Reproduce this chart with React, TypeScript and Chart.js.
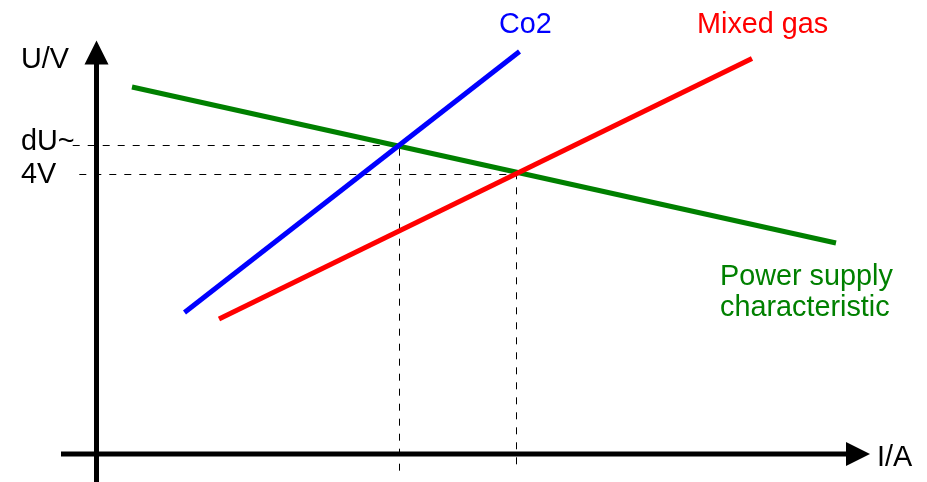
import React, { useEffect, useRef } from "react";
import { Chart, registerables } from "chart.js";

Chart.register(...registerables);

// Axis ranges (arbitrary units: I/A horizontal, U/V vertical)
const I_RANGE = [-9.65, 83.05];
const U_RANGE = [-2.8, 45.4];

// Characteristic lines (start / end points)
const powerSupplyI = [3.55, 73.95];
const powerSupplyU = [36.7, 21.1];
const co2I = [8.8, 42.3];
const co2U = [14.15, 40.25];
const mixedGasI = [12.25, 65.55];
const mixedGasU = [13.5, 39.55];

// Operating points (intersections) and their tick labels
const operatingI = [30.3, 42.0];
const operatingU = [30.85, 27.95];
const operatingLabels = ["dU~", "4V"];
const guideStartI = [-2.38, -1.72];
const guideEndU = -1.7;

// Axis extents
const xAxisFrom = -3.55;
const xAxisTip = 77.35;
const yAxisFrom = -2.8;
const yAxisTip = 41.35;

const seriesNames = ["Co2", "Mixed gas", "Power supply characteristic"];
const GREEN = "#008000";
const BLUE = "#0000ff";
const RED = "#ff0000";
const FONT = "28.8px 'Liberation Sans', Arial, sans-serif";

const pts = (xs: number[], ys: number[]) => xs.map((x, i) => ({ x, y: ys[i] }));

const overlayPlugin = {
  id: "overlay",
  afterDatasetsDraw(chart: any) {
    const { ctx, scales } = chart;
    const xs = scales.x;
    const ys = scales.y;
    const ox = xs.getPixelForValue(0);
    const oy = ys.getPixelForValue(0);
    const arrowLen = 24;
    const arrowHalf = 12;
    ctx.save();
    ctx.strokeStyle = "#000";
    ctx.fillStyle = "#000";
    ctx.lineWidth = 5;
    ctx.lineCap = "butt";
    // y axis
    const yTip = ys.getPixelForValue(yAxisTip);
    ctx.beginPath();
    ctx.moveTo(ox, ys.getPixelForValue(yAxisFrom));
    ctx.lineTo(ox, yTip + arrowLen - 1);
    ctx.stroke();
    ctx.beginPath();
    ctx.moveTo(ox, yTip);
    ctx.lineTo(ox - arrowHalf, yTip + arrowLen);
    ctx.lineTo(ox + arrowHalf, yTip + arrowLen);
    ctx.closePath();
    ctx.fill();
    // x axis
    const xTip = xs.getPixelForValue(xAxisTip);
    ctx.beginPath();
    ctx.moveTo(xs.getPixelForValue(xAxisFrom), oy);
    ctx.lineTo(xTip - arrowLen + 1, oy);
    ctx.stroke();
    ctx.beginPath();
    ctx.moveTo(xTip, oy);
    ctx.lineTo(xTip - arrowLen, oy - arrowHalf);
    ctx.lineTo(xTip - arrowLen, oy + arrowHalf);
    ctx.closePath();
    ctx.fill();

    // texts
    ctx.font = FONT;
    ctx.textBaseline = "alphabetic";
    ctx.textAlign = "left";
    ctx.fillStyle = "#000";
    ctx.fillText("U/V", 21, 68);
    ctx.fillText("I/A", xTip + 7, oy + 12);
    const tickBaselines = [150, 183];
    operatingLabels.forEach((t, i) => {
      ctx.fillText(t, 21, tickBaselines[i]);
    });
    ctx.fillStyle = BLUE;
    ctx.fillText(seriesNames[0], 499, 33);
    ctx.fillStyle = RED;
    ctx.fillText(seriesNames[1], 697, 33);
    ctx.fillStyle = GREEN;
    ctx.fillText("Power supply", 720, 285);
    ctx.fillText("characteristic", 720, 316);
    ctx.restore();
  },
};

export default function App() {
  const ref = useRef<HTMLCanvasElement | null>(null);
  useEffect(() => {
    if (!ref.current) return;
    const guides = operatingI.map((xi, i) => ({
      label: "guide " + operatingLabels[i],
      data: [
        { x: guideStartI[i], y: operatingU[i] },
        { x: xi, y: operatingU[i] },
        { x: xi, y: guideEndU },
      ],
      showLine: true,
      borderColor: "#000",
      borderWidth: 1,
      borderDash: [7, 8],
      pointRadius: 0,
      fill: false,
    }));
    const chart = new Chart(ref.current, {
      type: "scatter",
      data: {
        datasets: [
          {
            label: seriesNames[0],
            data: pts(co2I, co2U),
            showLine: true,
            borderColor: BLUE,
            borderWidth: 5,
            pointRadius: 0,
          },
          {
            label: seriesNames[1],
            data: pts(mixedGasI, mixedGasU),
            showLine: true,
            borderColor: RED,
            borderWidth: 5,
            pointRadius: 0,
          },
          {
            label: seriesNames[2],
            data: pts(powerSupplyI, powerSupplyU),
            showLine: true,
            borderColor: GREEN,
            borderWidth: 5,
            pointRadius: 0,
          },
          ...guides,
        ] as any,
      },
      options: {
        animation: false,
        responsive: false,
        layout: { padding: 0 },
        plugins: { legend: { display: false }, tooltip: { enabled: false } },
        scales: {
          x: { type: "linear", min: I_RANGE[0], max: I_RANGE[1], display: false },
          y: { type: "linear", min: U_RANGE[0], max: U_RANGE[1], display: false },
        },
      },
      plugins: [overlayPlugin],
    });
    return () => chart.destroy();
  }, []);
  return (
    <div style={{ position: "fixed", left: 0, top: 0, width: 927, height: 482, background: "#fff" }}>
      <canvas ref={ref} width={927} height={482} style={{ display: "block" }} />
    </div>
  );
}
